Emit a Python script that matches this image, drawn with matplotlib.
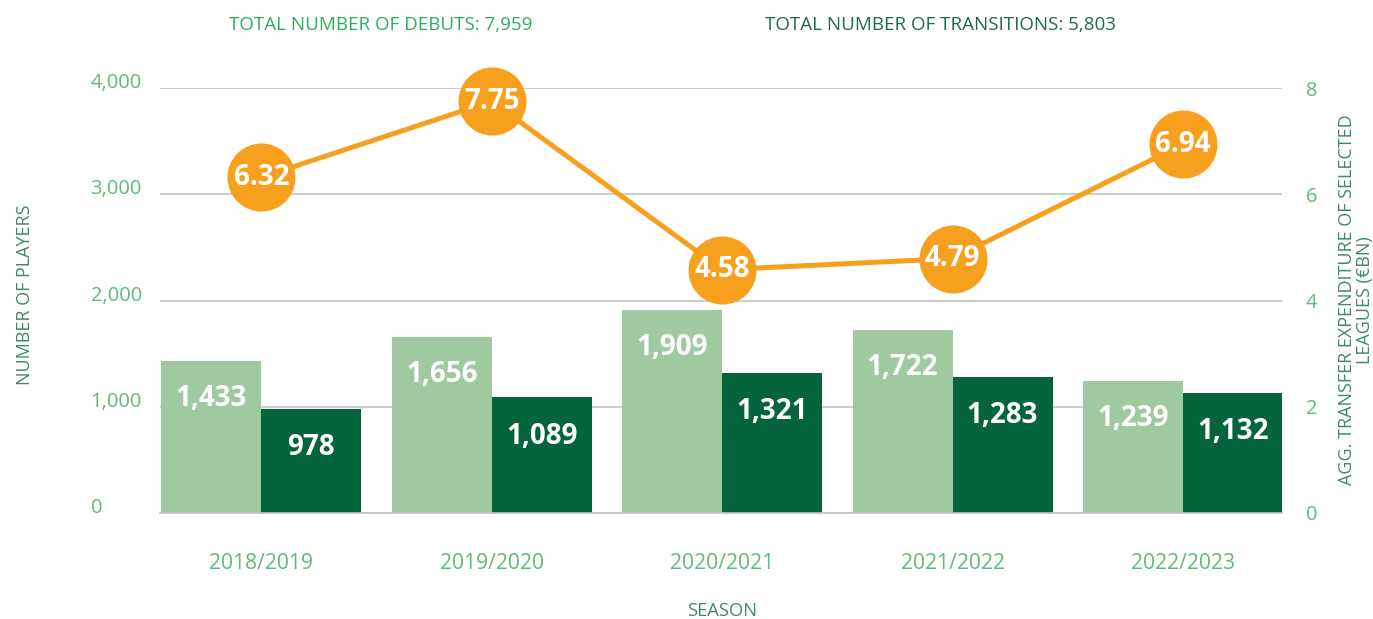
import matplotlib
matplotlib.use("Agg")
import matplotlib.pyplot as plt
import numpy as np

seasons = ["2018/2019", "2019/2020", "2020/2021", "2021/2022", "2022/2023"]
debuts = [1433, 1656, 1909, 1722, 1239]
transitions = [978, 1089, 1321, 1283, 1132]
expenditure = [6.32, 7.75, 4.58, 4.79, 6.94]
left_ticks = [0, 1000, 2000, 3000, 4000]
right_ticks = [0, 2, 4, 6, 8]

LIGHT = "#9FCAA0"
DARK = "#05643C"
ORANGE = "#F7A01E"
TICK = "#5DBB7A"
GRID = "#C4C4C4"

plt.rcParams['font.family'] = ['Open Sans', 'DejaVu Sans']

fig = plt.figure(figsize=(13.73, 6.19), dpi=100)
ax = fig.add_axes([160/1373, 1-513/619, (1282-160)/1373, (513-88)/619])
x = np.arange(len(seasons))
w = 0.434

ax.bar(x - w/2, debuts, w, color=LIGHT, zorder=2)
ax.bar(x + w/2, transitions, w, color=DARK, zorder=2)
for xi, v in zip(x - w/2, debuts):
    ax.annotate(f"{v:,}", (xi, v), xytext=(0, -27), textcoords="offset points",
                ha="center", va="center", color="white", fontsize=20, fontweight="bold", zorder=5)
for xi, v in zip(x + w/2, transitions):
    ax.annotate(f"{v:,}", (xi, v), xytext=(0, -28), textcoords="offset points",
                ha="center", va="center", color="white", fontsize=20, fontweight="bold", zorder=5)

ax.set_ylim(0, 4000)
ax.set_xlim(-0.44, 4.43)
ax.set_yticks(left_ticks)
ax.set_yticklabels([f"{t:,}" for t in left_ticks])
ax.yaxis.grid(True, color=GRID, linewidth=1.2, zorder=0)
ax.set_axisbelow(True)
for s in ["top", "right", "left"]:
    ax.spines[s].set_visible(False)
ax.spines["bottom"].set_color(GRID)
ax.spines["bottom"].set_linewidth(1.2)
ax.tick_params(axis="y", length=0, pad=50, labelcolor=TICK, labelsize=14.5)
for lab in ax.get_yticklabels():
    lab.set_horizontalalignment("left")
    lab.set_verticalalignment("baseline")
ax.set_xticks(x)
ax.set_xticklabels(seasons)
ax.tick_params(axis="x", length=0, pad=29, labelcolor=TICK, labelsize=15.2)

ax2 = ax.twinx()
ax2.set_ylim(0, 8)
ax2.set_yticks(right_ticks)
ax2.tick_params(axis="y", length=0, pad=17, labelcolor=TICK, labelsize=14.5)
for s in ["top", "right", "left", "bottom"]:
    ax2.spines[s].set_visible(False)
ax2.plot(x, expenditure, color=ORANGE, linewidth=3.6, marker="o", markersize=48,
         markerfacecolor=ORANGE, markeredgecolor=ORANGE, zorder=3, clip_on=False)
for xi, v in zip(x, expenditure):
    ax2.text(xi, v, f"{v:.2f}", ha="center", va="center", color="white",
             fontsize=20, fontweight="bold", zorder=6)

fig.text(381/1373, 1-25/619, "TOTAL NUMBER OF DEBUTS: 7,959", ha="center", va="center",
         color="#2EAE5A", fontsize=13.5)
fig.text(940/1373, 1-25/619, "TOTAL NUMBER OF TRANSITIONS: 5,803", ha="center", va="center",
         color="#1E6B4A", fontsize=13.5)
fig.text(25/1373, 1-295/619, "NUMBER OF PLAYERS", rotation=90, ha="center", va="center",
         color="#3E8A66", fontsize=13)
fig.text(1356/1373, 1-300/619, "AGG. TRANSFER EXPENDITURE OF SELECTED\nLEAGUES (€BN)", rotation=90,
         ha="center", va="center", color="#3E8A66", fontsize=13, linespacing=1.0,
         multialignment="center")
fig.text(722/1373, 1-611/619, "SEASON", ha="center", va="center", color="#3E8A66", fontsize=13.2)

fig.savefig("out.png", dpi=100, facecolor="white")
